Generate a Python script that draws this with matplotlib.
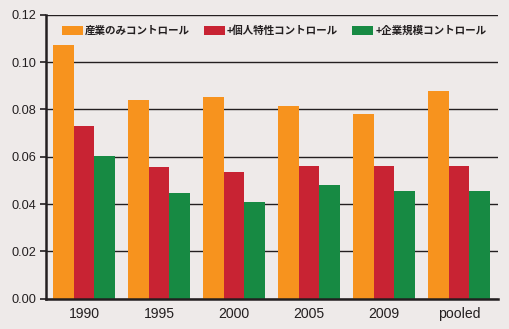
import matplotlib
matplotlib.use('Agg')
import matplotlib.pyplot as plt
import numpy as np

# categories on the x axis
years = ['1990', '1995', '2000', '2005', '2009', 'pooled']

# series names (legend)
series_names = ['産業のみコントロール', '+個人特性コントロール', '+企業規模コントロール']

# values
industry_only = [0.1072, 0.0839, 0.0852, 0.0814, 0.0780, 0.0877]
plus_personal = [0.0730, 0.0556, 0.0535, 0.0561, 0.0561, 0.0561]
plus_firm_size = [0.0603, 0.0447, 0.0409, 0.0480, 0.0455, 0.0455]

colors = ['#F7931E', '#C82333', '#178A43']
bg = '#EEEAE9'
dark = '#231F20'

fig = plt.figure(figsize=(5.09, 3.29), dpi=100, facecolor=bg)
ax = fig.add_axes([0.0898, 0.092, 0.888, 0.863], facecolor=bg)

x = np.arange(len(years))
w = 0.275
for i, (vals, name) in enumerate(zip([industry_only, plus_personal, plus_firm_size], series_names)):
    ax.bar(x + (i - 1) * w, vals, width=w, color=colors[i], label=name, zorder=3, linewidth=0)

ax.set_xlim(-0.513, 5.517)
ax.set_ylim(0, 0.12)
ax.set_yticks(np.arange(0, 0.1201, 0.02))
ax.set_yticklabels(['%.2f' % v for v in np.arange(0, 0.1201, 0.02)],
                   fontfamily='Liberation Sans', fontsize=9.2, color=dark)
ax.set_xticks(x)
ax.set_xticklabels(years, fontfamily='Liberation Sans', fontsize=10.1, color=dark)
ax.tick_params(axis='x', length=0, pad=6)
ax.tick_params(axis='y', length=4, width=1.2, pad=3, color=dark)
ax.grid(axis='y', color=dark, linewidth=1.0, zorder=0)
ax.set_axisbelow(True)

for s in ['top', 'right']:
    ax.spines[s].set_visible(False)
for s in ['left', 'bottom']:
    ax.spines[s].set_color(dark)
    ax.spines[s].set_linewidth(1.8)
    ax.spines[s].set_zorder(4)

leg = ax.legend(loc='upper left', bbox_to_anchor=(0.035, 0.962), ncol=3, frameon=False,
                prop={'family': ['Noto Sans CJK JP', 'DejaVu Sans'], 'size': 7.6, 'weight': 'bold'},
                handlelength=2.0, handleheight=0.95, handletextpad=0.22, columnspacing=1.3,
                borderaxespad=0, borderpad=0)
for t in leg.get_texts():
    t.set_color(dark)

fig.savefig('out.png', dpi=100, facecolor=bg)
